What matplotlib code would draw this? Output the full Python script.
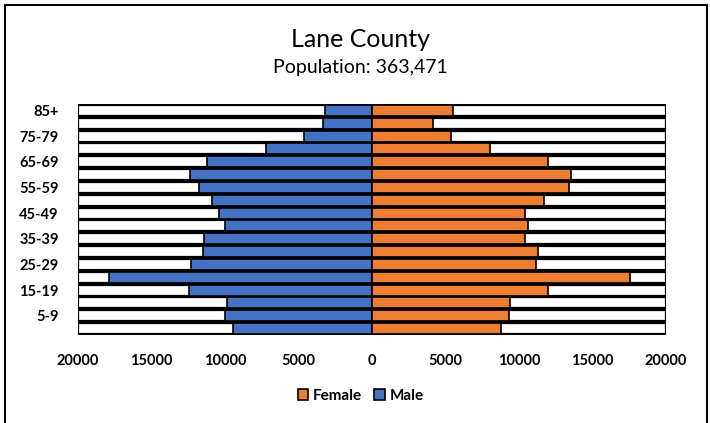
import matplotlib.pyplot as plt
from matplotlib.patches import Rectangle

ages = ['0-4', '5-9', '10-14', '15-19', '20-24', '25-29', '30-34', '35-39', '40-44',
        '45-49', '50-54', '55-59', '60-64', '65-69', '70-74', '75-79', '80-84', '85+']
male = [9460, 9980, 9840, 12450, 17900, 12300, 11500, 11450, 9980,
        10400, 10900, 11770, 12400, 11200, 7200, 4600, 3330, 3200]
female = [8780, 9300, 9410, 11970, 17570, 11130, 11270, 10390, 10640,
          10390, 11700, 13380, 13560, 11950, 8030, 5350, 4130, 5530]
xticks = [-20000, -15000, -10000, -5000, 0, 5000, 10000, 15000, 20000]

plt.rcParams['font.family'] = ['Lato', 'DejaVu Sans']

fig = plt.figure(figsize=(7.1, 4.23), dpi=100)
ax = fig.add_axes([0.11, 0.208, 0.828, 0.546])

y = range(len(ages))
h = 0.86
ax.barh(y, [40000] * len(ages), left=-20000, height=h, color='white', edgecolor='black', linewidth=1.6)
ax.barh(y, [-m for m in male], height=h, color='#4472C4', edgecolor='black', linewidth=1.2, label='Male')
ax.barh(y, female, height=h, color='#ED7D31', edgecolor='black', linewidth=1.2, label='Female')

ax.set_xlim(-20000, 20000)
ax.set_ylim(-0.5, len(ages) - 0.5)
ax.set_xticks(xticks)
ax.set_xticklabels([str(abs(t)) for t in xticks], fontweight='bold', fontsize=10.5)
ax.set_yticks(list(y)[1::2])
ax.set_yticklabels(ages[1::2], fontweight='bold', fontsize=10.5)
ax.tick_params(axis='both', length=0)
ax.tick_params(axis='x', pad=14)
ax.tick_params(axis='y', pad=14)
for s in ax.spines.values():
    s.set_visible(False)

handles, labels = ax.get_legend_handles_labels()
fig.legend(handles[::-1], labels[::-1], loc='center', bbox_to_anchor=(0.508, 0.064), ncol=2,
           frameon=False, prop={'size': 11, 'weight': 'bold'}, handlelength=0.7, handleheight=0.7,
           handletextpad=0.3, columnspacing=0.8)

fig.text(0.508, 0.907, 'Lane County', ha='center', va='center', fontsize=18)
fig.text(0.508, 0.84, 'Population: 363,471', ha='center', va='center', fontsize=14)

fig.patches.append(Rectangle((5 / 710, -0.05), 702 / 710, 1.05 - 5 / 423, transform=fig.transFigure,
                             fill=False, edgecolor='black', linewidth=1.5))

fig.savefig('out.png', dpi=100)
